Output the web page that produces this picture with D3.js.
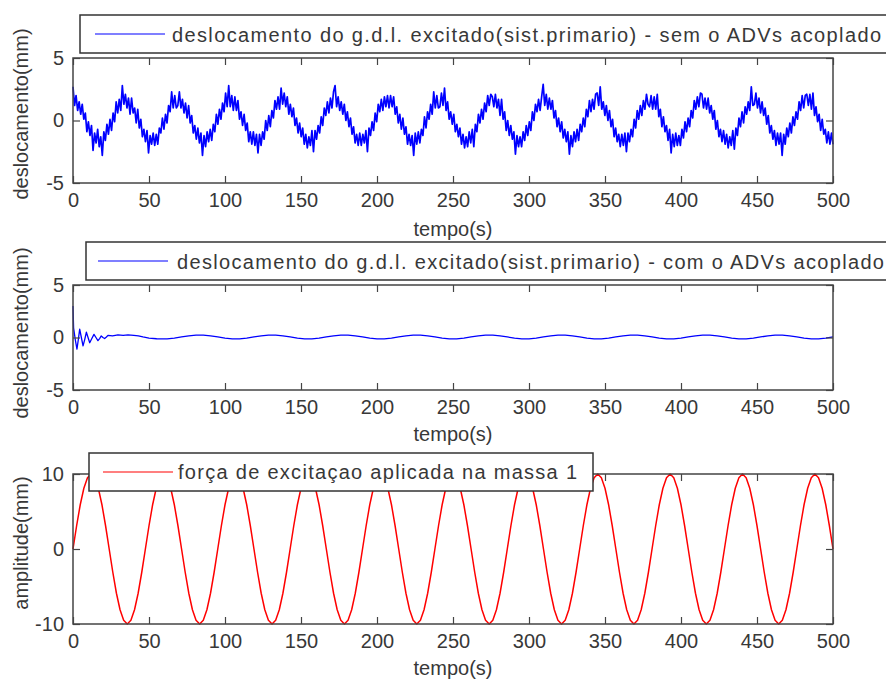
<!DOCTYPE html>
<html>
<head>
<meta charset="utf-8">
<script src="https://cdn.jsdelivr.net/npm/d3@7"></script>
<style>
    body { margin: 0; background: #ffffff; }
    text { font-family: "Liberation Sans", Arial, sans-serif; fill: #383838; }
</style>
</head>

<body>
<div id="chart"></div>

<script>

    var xTicks = [0, 50, 100, 150, 200, 250, 300, 350, 400, 450, 500];
    var xLabel = 'tempo(s)';
    var yLabels = ['deslocamento(mm)', 'deslocamento(mm)', 'amplitude(mm)'];
    var legendLabels = [
        'deslocamento do g.d.l. excitado(sist.primario) - sem o ADVs acoplado',
        'deslocamento do g.d.l. excitado(sist.primario) - com o ADVs acoplado',
        'força de excitaçao aplicada na massa 1'
    ];

    // top: sampled every 500/493 s
    var topStep = 500 / 493;
    var topValues = [
        2.7,1.2,2.0,0.8,1.5,0.5,1.3,0.1,0.6,-0.9,-0.1,-1.2,-0.4,-2.4,-1.0,-1.8,-0.7,-2.1,-1.3,-2.8,-0.9,-1.6,-0.3,-1.1,0.1,-0.8,0.6,-0.1,1.5,0.6,1.7,0.8,2.8,1.3,
        2.1,1.0,1.8,0.5,1.8,0.6,1.0,-0.2,0.9,-0.6,0.1,-1.3,-0.7,-1.7,-0.8,-2.6,-1.2,-1.9,-1.0,-2.0,-1.1,-1.9,-0.6,-1.0,0.2,-0.7,0.5,-0.2,1.2,0.7,2.3,1.0,2.0,1.0,
        1.2,2.3,1.0,1.7,0.6,1.4,0.2,1.2,-0.2,0.4,-1.0,-0.4,-1.5,-0.6,-1.8,-1.0,-2.8,-1.2,-2.1,-0.9,-1.7,-0.7,-1.6,-0.3,-0.9,0.5,-0.3,0.9,0.1,1.4,0.7,2.2,1.1,2.8,
        1.1,2.0,0.8,1.9,0.8,1.6,0.1,0.7,-0.4,0.5,-0.8,-0.2,-1.7,-0.9,-1.9,-0.9,-2.0,-1.1,-2.6,-1.1,-2.0,-0.9,-1.5,0.0,-0.8,0.4,-0.5,0.8,0.2,1.6,0.9,1.9,0.9,2.6,
        1.3,2.2,1.1,1.9,0.5,1.3,0.3,1.0,-0.4,0.2,-1.0,-0.2,-1.3,-0.6,-1.9,-1.1,-2.2,-1.3,-2.0,-0.8,-2.5,-0.8,-1.5,-0.4,-1.0,0.3,-0.4,1.0,0.4,1.5,0.6,1.8,1.0,2.3,
        2.8,1.1,1.9,0.8,1.5,0.5,1.3,0.0,0.7,-0.5,0.2,-1.1,-0.5,-1.8,-1.1,-2.0,-1.0,-2.0,-1.1,-1.8,-0.8,-2.5,-0.6,-1.2,-0.1,-0.8,0.6,-0.1,1.3,0.7,1.7,0.8,1.9,1.1,
        2.0,1.0,2.0,1.1,1.9,0.5,1.1,-0.2,0.5,-0.7,0.2,-1.1,-0.5,-1.9,-1.1,-2.0,-1.2,-2.8,-1.0,-1.9,-0.9,-1.8,-0.7,-1.2,0.3,-0.6,0.7,0.1,1.3,0.5,2.3,1.0,2.0,1.0,
        1.1,2.2,1.2,2.6,0.8,1.5,0.1,0.7,-0.3,0.5,-0.9,-0.3,-1.3,-0.6,-1.9,-1.1,-2.2,-1.3,-2.1,-0.9,-1.8,-0.7,-2.1,-0.3,-0.9,0.5,-0.2,0.9,0.1,1.4,0.7,2.0,1.2,2.1,
        1.9,1.1,2.1,1.0,1.7,0.4,1.7,0.1,0.7,-0.8,0.0,-1.2,-0.4,-1.5,-0.9,-2.7,-1.2,-2.1,-1.3,-2.1,-0.9,-1.6,-0.4,-1.2,-0.1,-0.8,0.7,0.0,1.3,0.7,1.7,0.8,1.9,2.9,
        1.2,2.1,0.9,1.8,0.9,1.6,0.2,0.8,-0.5,0.2,-0.9,-0.1,-1.4,-0.7,-1.7,-0.9,-2.7,-1.2,-2.1,-0.9,-1.7,-0.7,-1.6,-0.3,-0.9,0.2,-0.5,0.9,0.3,1.6,0.7,1.7,0.9,2.1,
        2.2,1.2,2.7,0.9,1.5,0.4,1.2,0.0,0.8,-0.5,0.1,-1.3,-0.6,-1.7,-1.1,-2.1,-1.1,-2.0,-1.0,-2.5,-1.0,-1.7,-0.7,-1.3,0.1,-0.6,0.8,0.1,1.2,0.4,1.6,0.9,2.1,1.3,
        1.1,2.0,0.9,1.9,0.9,2.1,0.3,0.9,-0.5,0.3,-0.9,-0.4,-1.6,-0.7,-2.6,-1.1,-2.1,-1.0,-2.0,-1.2,-2.0,-0.7,-1.4,-0.1,-0.9,0.2,-0.5,0.8,0.2,1.6,0.9,1.9,1.1,2.2,
        2.1,1.0,1.8,0.9,1.8,0.6,1.2,0.1,0.8,-0.7,0.0,-1.3,-0.7,-1.7,-0.8,-1.9,-1.1,-2.2,-1.3,-2.0,-0.8,-2.3,-0.6,-1.2,0.2,-0.5,0.7,-0.2,1.1,0.5,1.5,0.8,2.7,1.2,
        1.3,2.2,1.0,1.8,0.6,1.5,0.4,1.0,-0.3,0.4,-1.0,-0.4,-1.5,-0.8,-2.0,-1.0,-1.9,-1.0,-2.8,-1.1,-1.9,-0.6,-1.3,-0.2,-1.0,0.3,-0.4,0.7,0.1,1.5,0.8,2.0,1.0,2.0,
        2.1,1.2,2.1,0.9,2.2,0.4,1.1,-0.1,0.5,-0.8,0.1,-1.1,-0.7,-1.8,-0.9,-1.9,-1.0,-1.9
    ];

    // middle: transient read point by point, then steady part every 500/105 s from t = 12 steps
    var midTransientTime = [0, 0.4, 1.5, 2.6, 3.5, 4.4, 5.5, 6.6, 7.7, 8.8, 9.9, 11, 12.4, 13.8, 15.1, 16.4, 17.5, 18.6, 19.7, 20.8, 22, 23, 26, 29.6, 33, 36.2, 40, 43, 46, 50, 55];
    var midTransientValue = [3.0, 0.9, -0.2, -1.1, -0.2, 0.8, 0.0, -0.8, -0.2, 0.5, 0.0, -0.5, -0.1, 0.3, 0.0, -0.3, -0.1, 0.15, 0.0, -0.1, 0.05, 0.2, 0.15, 0.25, 0.2, 0.25, 0.2, 0.15, 0.05, -0.05, -0.12];
    var midSteadyStep = 500 / 105;
    var midSteadyStart = 12;
    var midSteadyValue = [
        -0.13,-0.13,-0.06,0.05,0.16,0.23,0.23,0.16,0.05,-0.06,
        -0.13,-0.13,-0.06,0.05,0.16,0.23,0.23,0.16,0.05,-0.06,
        -0.13,-0.13,-0.06,0.05,0.16,0.23,0.23,0.16,0.05,-0.06,
        -0.13,-0.13,-0.06,0.05,0.16,0.23,0.23,0.16,0.05,-0.06,
        -0.13,-0.13,-0.06,0.05,0.16,0.23,0.23,0.16,0.05,-0.06,
        -0.13,-0.13,-0.06,0.05,0.16,0.23,0.23,0.16,0.05,-0.06,
        -0.13,-0.13,-0.06,0.05,0.16,0.23,0.23,0.16,0.05,-0.06,
        -0.13,-0.13,-0.06,0.05,0.16,0.23,0.23,0.16,0.05,-0.06,
        -0.13,-0.13,-0.06,0.05,0.16,0.23,0.23,0.16,0.05,-0.06,
        -0.13,-0.13,-0.06,0.05
    ];

    // bottom: force sampled every 500/210 s
    var forceStep = 500 / 210;
    var forceValues = [
        0,3.1,5.9,8.1,9.5,10,9.5,8.1,5.9,3.1,0,-3.1,-5.9,-8.1,-9.5,-10,-9.5,-8.1,-5.9,-3.1,
        0,3.1,5.9,8.1,9.5,10,9.5,8.1,5.9,3.1,0,-3.1,-5.9,-8.1,-9.5,-10,-9.5,-8.1,-5.9,-3.1,
        0,3.1,5.9,8.1,9.5,10,9.5,8.1,5.9,3.1,0,-3.1,-5.9,-8.1,-9.5,-10,-9.5,-8.1,-5.9,-3.1,
        0,3.1,5.9,8.1,9.5,10,9.5,8.1,5.9,3.1,0,-3.1,-5.9,-8.1,-9.5,-10,-9.5,-8.1,-5.9,-3.1,
        0,3.1,5.9,8.1,9.5,10,9.5,8.1,5.9,3.1,0,-3.1,-5.9,-8.1,-9.5,-10,-9.5,-8.1,-5.9,-3.1,
        0,3.1,5.9,8.1,9.5,10,9.5,8.1,5.9,3.1,0,-3.1,-5.9,-8.1,-9.5,-10,-9.5,-8.1,-5.9,-3.1,
        0,3.1,5.9,8.1,9.5,10,9.5,8.1,5.9,3.1,0,-3.1,-5.9,-8.1,-9.5,-10,-9.5,-8.1,-5.9,-3.1,
        0,3.1,5.9,8.1,9.5,10,9.5,8.1,5.9,3.1,0,-3.1,-5.9,-8.1,-9.5,-10,-9.5,-8.1,-5.9,-3.1,
        0,3.1,5.9,8.1,9.5,10,9.5,8.1,5.9,3.1,0,-3.1,-5.9,-8.1,-9.5,-10,-9.5,-8.1,-5.9,-3.1,
        0,3.1,5.9,8.1,9.5,10,9.5,8.1,5.9,3.1,0,-3.1,-5.9,-8.1,-9.5,-10,-9.5,-8.1,-5.9,-3.1,
        0,3.1,5.9,8.1,9.5,10,9.5,8.1,5.9,3.1,0
    ];

    var topSeries = topValues.map(function(v, i) { return { t: i * topStep, v: v }; });
    var midSeries = midTransientValue.map(function(v, i) { return { t: midTransientTime[i], v: v }; })
        .concat(midSteadyValue.map(function(v, i) { return { t: (midSteadyStart + i) * midSteadyStep, v: v }; }));
    var forceSeries = forceValues.map(function(v, i) { return { t: i * forceStep, v: v }; });

    var width = 886;
    var height = 681;
    var frameColor = '#444444';

    var panels = [
        { series: topSeries, color: '#0000ff', lineWidth: 1.7, top: 58, bottom: 183, yDomain: [-5, 5], yTicks: [-5, 0, 5],
          yLabelY: 114, xLabelY: 236,
          legend: { x: 80, y: 15, w: 830, h: 38, x1: 95, x2: 165, textX: 172, textLen: 709, baseline: 42 } },
        { series: midSeries, color: '#0000ff', lineWidth: 1.3, top: 285, bottom: 390, yDomain: [-5, 5], yTicks: [-5, 0, 5],
          yLabelY: 333, xLabelY: 441,
          legend: { x: 86, y: 242, w: 830, h: 38, x1: 98, x2: 168, textX: 177, textLen: 707, baseline: 269 } },
        { series: forceSeries, color: '#ff0000', lineWidth: 1.5, top: 474, bottom: 624, yDomain: [-10, 10], yTicks: [-10, 0, 10],
          yLabelY: 543, xLabelY: 675,
          legend: { x: 89, y: 453, w: 504, h: 38, x1: 103, x2: 173, textX: 178, textLen: 399, baseline: 479 } }
    ];

    var xScale = d3.scaleLinear()
        .domain([0, 500])
        .range([73, 833]);

    // plain hyphen for negatives, like the original figure
    var plainFormat = function(d) { return String(d); };

    var svg = d3.select('#chart').append('svg')
        .attr('width', width)
        .attr('height', height);

    panels.forEach(function(p, n) {
        var yScale = d3.scaleLinear()
            .domain(p.yDomain)
            .range([p.bottom, p.top]);

        var g = svg.append('g');

        g.append('rect')
            .attr('x', xScale(0))
            .attr('y', p.top)
            .attr('width', xScale(500) - xScale(0))
            .attr('height', p.bottom - p.top)
            .attr('fill', '#ffffff');

        var line = d3.line()
            .x(function(d) { return xScale(d.t); })
            .y(function(d) { return yScale(d.v); });

        g.append('path')
            .datum(p.series)
            .attr('d', line)
            .attr('fill', 'none')
            .attr('stroke', p.color)
            .attr('stroke-width', p.lineWidth)
            .attr('stroke-linejoin', 'round');

        // inward ticks on all four sides, labels only bottom and left
        var axes = [
            g.append('g').attr('transform', 'translate(0,' + p.bottom + ')')
                .call(d3.axisBottom(xScale).tickValues(xTicks).tickSizeInner(-7).tickSizeOuter(0).tickPadding(10).tickFormat(plainFormat)),
            g.append('g').attr('transform', 'translate(0,' + p.top + ')')
                .call(d3.axisTop(xScale).tickValues(xTicks).tickSizeInner(-7).tickSizeOuter(0).tickFormat('')),
            g.append('g').attr('transform', 'translate(' + xScale(0) + ',0)')
                .call(d3.axisLeft(yScale).tickValues(p.yTicks).tickSizeInner(-7).tickSizeOuter(0).tickPadding(9).tickFormat(plainFormat)),
            g.append('g').attr('transform', 'translate(' + xScale(500) + ',0)')
                .call(d3.axisRight(yScale).tickValues(p.yTicks).tickSizeInner(-7).tickSizeOuter(0).tickFormat(''))
        ];
        axes.forEach(function(a) {
            a.select('.domain').remove();
            a.selectAll('line').attr('stroke', frameColor).attr('stroke-width', 1.2);
            a.selectAll('text')
                .attr('fill', '#383838')
                .style('font-family', '"Liberation Sans", Arial, sans-serif')
                .style('font-size', '20px');
        });

        g.append('rect')
            .attr('x', xScale(0))
            .attr('y', p.top)
            .attr('width', xScale(500) - xScale(0))
            .attr('height', p.bottom - p.top)
            .attr('fill', 'none')
            .attr('stroke', frameColor)
            .attr('stroke-width', 1.5);

        g.append('text')
            .attr('transform', 'translate(28,' + p.yLabelY + ') rotate(-90)')
            .attr('text-anchor', 'middle')
            .style('font-size', '20px')
            .text(yLabels[n]);

        g.append('text')
            .attr('x', (xScale(0) + xScale(500)) / 2)
            .attr('y', p.xLabelY)
            .attr('text-anchor', 'middle')
            .style('font-size', '20px')
            .text(xLabel);

        var lg = p.legend;
        g.append('rect')
            .attr('x', lg.x)
            .attr('y', lg.y)
            .attr('width', lg.w)
            .attr('height', lg.h)
            .attr('fill', '#ffffff')
            .attr('stroke', '#333333')
            .attr('stroke-width', 1.5);

        g.append('line')
            .attr('x1', lg.x1)
            .attr('x2', lg.x2)
            .attr('y1', lg.y + lg.h / 2)
            .attr('y2', lg.y + lg.h / 2)
            .attr('stroke', p.color)
            .attr('stroke-width', 1.2);

        g.append('text')
            .attr('x', lg.textX)
            .attr('y', lg.baseline)
            .attr('textLength', lg.textLen)
            .attr('lengthAdjust', 'spacing')
            .style('font-size', '20px')
            .text(legendLabels[n]);
    });

</script>
</body>
</html>
